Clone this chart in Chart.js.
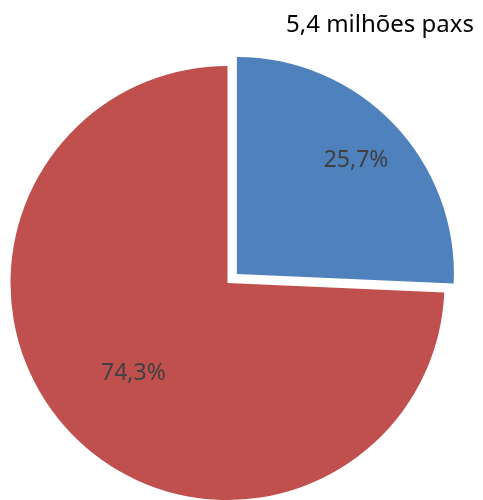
<!DOCTYPE html>
<html>
<head>
<meta charset="utf-8">
<script src="https://cdn.jsdelivr.net/npm/chart.js@4/dist/chart.umd.min.js"></script>
<style>
  html, body { margin: 0; padding: 0; background: #fff; }
  #wrap { width: 483px; height: 500px; }
</style>
</head>
<body>
<div id="wrap"><canvas id="grafico"></canvas></div>
<script>
// dados
const categorias = ["Segmento A", "Segmento B"];
const percentuais = [25.7, 74.3];
const cores = ["#4F81BD", "#C0504D"];
const titulo = "5,4 milhões paxs";

// coloca o centro da pizza onde ela fica no original (parte de baixo cortada)
const posicionarPizza = {
  id: "posicionarPizza",
  afterLayout(chart, args, opts) {
    const a = chart.chartArea;
    const meio = opts.tamanho / 2;
    a.left = opts.centroX - meio;
    a.right = opts.centroX + meio;
    a.top = opts.centroY - meio;
    a.bottom = opts.centroY + meio;
    a.width = opts.tamanho;
    a.height = opts.tamanho;
  },
};

// rótulos de porcentagem dentro das fatias
const rotulosFatias = {
  id: "rotulosFatias",
  afterDatasetsDraw(chart, args, opts) {
    const { ctx } = chart;
    const meta = chart.getDatasetMeta(0);
    ctx.save();
    ctx.font = opts.font;
    ctx.fillStyle = opts.color;
    ctx.textAlign = "center";
    ctx.textBaseline = "middle";
    meta.data.forEach((arc, i) => {
      const p = arc.getProps(["x", "y", "startAngle", "endAngle", "outerRadius"], true);
      const meio = (p.startAngle + p.endAngle) / 2;
      const desloc = (arc.options.offset || 0) / 4;
      const r = p.outerRadius * opts.distancias[i] + desloc;
      const valor = chart.data.datasets[0].data[i];
      const texto = valor.toFixed(1).replace(".", ",") + "%";
      ctx.fillText(texto, p.x + Math.cos(meio) * r, p.y + Math.sin(meio) * r);
    });
    ctx.restore();
  },
};

const ctx = document.getElementById("grafico").getContext("2d");
new Chart(ctx, {
  type: "pie",
  data: {
    labels: categorias,
    datasets: [
      {
        data: percentuais,
        backgroundColor: cores,
        borderWidth: 0,
        offset: [52, 0],
        hoverOffset: 0,
      },
    ],
  },
  options: {
    responsive: true,
    maintainAspectRatio: false,
    animation: false,
    radius: 217,
    layout: { padding: { left: 0, right: 9, top: 0, bottom: 0 } },
    plugins: {
      legend: { display: false },
      tooltip: { enabled: false },
      title: {
        display: true,
        text: titulo,
        align: "end",
        color: "#000000",
        font: { family: "'Noto Sans', sans-serif", size: 24, weight: "normal" },
        padding: { top: 11, bottom: 2 },
      },
      posicionarPizza: { centroX: 227.5, centroY: 283, tamanho: 480 },
      rotulosFatias: {
        font: "23px 'Noto Sans', sans-serif",
        color: "#404040",
        distancias: [0.76, 0.6],
      },
    },
  },
  plugins: [posicionarPizza, rotulosFatias],
});
</script>
</body>
</html>
